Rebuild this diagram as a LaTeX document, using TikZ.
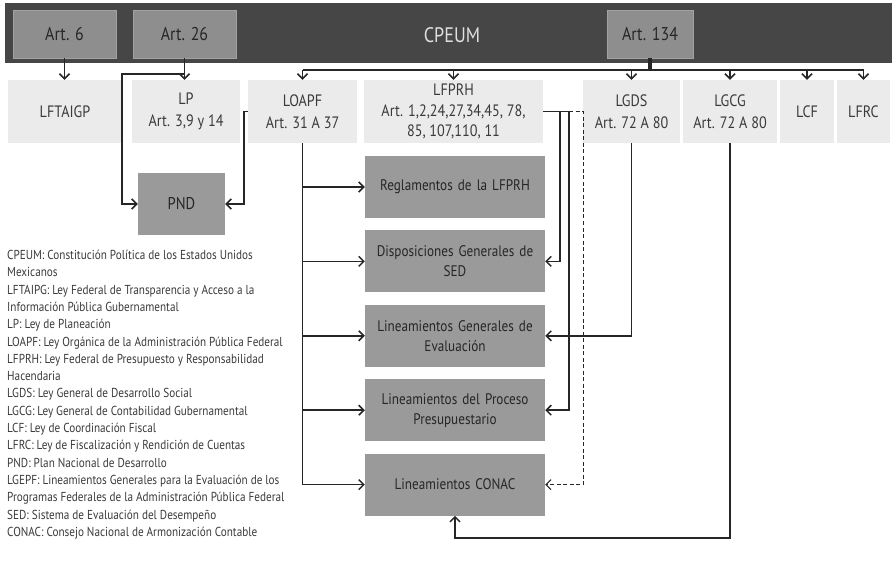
\documentclass[tikz,border=0pt]{standalone}
\usepackage{fontspec}
\setmainfont[FakeStretch=0.86]{PT Sans}
\usepackage{xcolor}
\usetikzlibrary{arrows.meta,positioning}

\definecolor{barcol}{HTML}{464646}
\definecolor{artcol}{HTML}{8E8E8E}
\definecolor{artedge}{HTML}{A2A2A2}
\definecolor{lawcol}{HTML}{EBEBEB}
\definecolor{doccol}{HTML}{9A9A9A}
\definecolor{txtcol}{HTML}{3A3A3A}

\begin{document}
\begin{tikzpicture}[
    x=1pt, y=-1pt,
    node distance=12pt,
    bar/.style={
        rectangle,
        fill=barcol,
        minimum width=887pt,
        minimum height=60pt,
        inner sep=0pt
    },
    artbox/.style={
        rectangle,
        fill=artcol,
        draw=artedge,
        minimum width=103pt,
        minimum height=48pt,
        inner sep=0pt,
        font=\fontsize{18.5}{20}\selectfont,
        text=black!85
    },
    lawbox/.style={
        rectangle,
        fill=lawcol,
        minimum height=63pt,
        inner sep=0pt,
        align=center,
        font=\fontsize{16.5}{22}\selectfont,
        text=txtcol
    },
    docbox/.style={
        rectangle,
        fill=doccol,
        minimum width=180pt,
        minimum height=62pt,
        text width=176pt,
        inner sep=0pt,
        align=center,
        font=\fontsize{15.3}{20}\selectfont,
        text=black!85
    },
    legend/.style={
        align=left,
        inner sep=0pt,
        font=\fontsize{13}{17.3}\selectfont,
        text=txtcol
    },
    arrow/.style={
        -{Straight Barb[length=5pt,width=10pt]},
        line width=1.5pt,
        black!85
    }
]

\useasboundingbox (0,0) rectangle (892,567);

% Constitution bar
\node[bar] (cpeum) at (448.5,33) {};
\node[font=\fontsize{21}{22}\selectfont, text=white!88!black] (cpeumtext) at (452,35) {CPEUM};
\node[artbox] (art6) at (64.5,34) {Art. 6};
\node[artbox] (art26) at (184.5,34) {Art. 26};
\node[artbox, minimum width=86pt] (art134) at (650,34) {Art. 134};

% Laws
\node[lawbox, minimum width=114pt] (lftaigp) at (65,111.5) {LFTAIGP};
\node[lawbox, minimum width=108pt] (lp) at (186,111.5) {LP\\Art. 3,9 y 14};
\node[lawbox, minimum width=109pt] (loapf) at (302.5,111.5) {LOAPF\\Art. 31 A 37};
\node[lawbox, minimum width=179pt, font=\fontsize{16.5}{20.5}\selectfont] (lfprh) at (453.5,111.5) {LFPRH\\Art. 1,2,24,27,34,45, 78,\\85, 107,110, 11};
\node[lawbox, minimum width=97pt] (lgds) at (631.5,111.5) {LGDS\\Art. 72 A 80};
\node[lawbox, minimum width=94pt] (lgcg) at (730,111.5) {LGCG\\Art. 72 A 80};
\node[lawbox, minimum width=54pt] (lcf) at (807,111.5) {LCF};
\node[lawbox, minimum width=53pt] (lfrc) at (863.5,111.5) {LFRC};

% Plan
\node[docbox, minimum width=87pt, text width=80pt, font=\fontsize{17}{20}\selectfont] (pnd) at (181.5,204) {PND};

% Regulations
\node[docbox] (regl) at (455,187) {Reglamentos de la LFPRH};
\node[docbox, below=of regl] (disp) {Disposiciones Generales de\\SED};
\node[docbox, below=of disp] (lge) {Lineamientos Generales de\\Evaluación};
\node[docbox, below=of lge] (lpp) {Lineamientos del Proceso\\Presupuestario};
\node[docbox, below=of lpp] (conac) {Lineamientos CONAC};

% Glossary
\node[legend, anchor=north west] (gloss) at (7,250) {%
CPEUM: Constitución Política de los Estados Unidos\\
Mexicanos\\
LFTAIPG: Ley Federal de Transparencia y Acceso a la\\
Información Pública Gubernamental\\
LP: Ley de Planeación\\
LOAPF: Ley Orgánica de la Administración Pública Federal\\
LFPRH: Ley Federal de Presupuesto y Responsabilidad\\
Hacendaria\\
LGDS: Ley General de Desarrollo Social\\
LGCG: Ley General de Contabilidad Gubernamental\\
LCF: Ley de Coordinación Fiscal\\
LFRC: Ley de Fiscalización y Rendición de Cuentas\\
PND: Plan Nacional de Desarrollo\\
LGEPF: Lineamientos Generales para la Evaluación de los\\
Programas Federales de la Administración Pública Federal\\
SED: Sistema de Evaluación del Desempeño\\
CONAC: Consejo Nacional de Armonización Contable};

% Arrows from the constitution
\coordinate (bus) at (0,70);
\coordinate (j26) at (184.5,74);
\draw[arrow] (art6.south) -- (art6.south |- lftaigp.north);
\draw[arrow] (art26.south) -- (art26.south |- lp.north);
\draw[arrow] (j26) -- ++(-62.5,0) |- (pnd.west);
\draw[line width=3.5pt, black!85] (art134.south) -- (art134.south |- bus);
\draw[line width=1.8pt, black!85] (loapf.north |- bus) -- (lfrc.north |- bus);
\foreach \law in {loapf, lfprh, lgds, lgcg, lcf, lfrc}
    \draw[arrow] (\law.north |- bus) -- (\law.north);

% Arrows from the laws
\draw[arrow] (loapf.west) -- ++(-4,0) |- (pnd.east);
\foreach \doc in {regl, disp, lge, lpp}
    \draw[arrow] (loapf.south |- \doc.west) -- (\doc.west);
\draw[arrow] (loapf.south) |- (conac.west);
\draw[arrow, line width=1.1pt, dash pattern=on 4pt off 2.5pt] (lfprh.east) -- ++(40,0) |- (conac.east);
\draw[arrow] (lfprh.east) -- ++(17,0) |- (disp.east);
\draw[arrow] (lfprh.east) -- ++(26,0) |- (lpp.east);
\draw[arrow] (lgds.south) |- (lge.east);
\draw[arrow] (lgcg.south) -- ++(0,395) -| (conac.south);

\end{tikzpicture}
\end{document}
